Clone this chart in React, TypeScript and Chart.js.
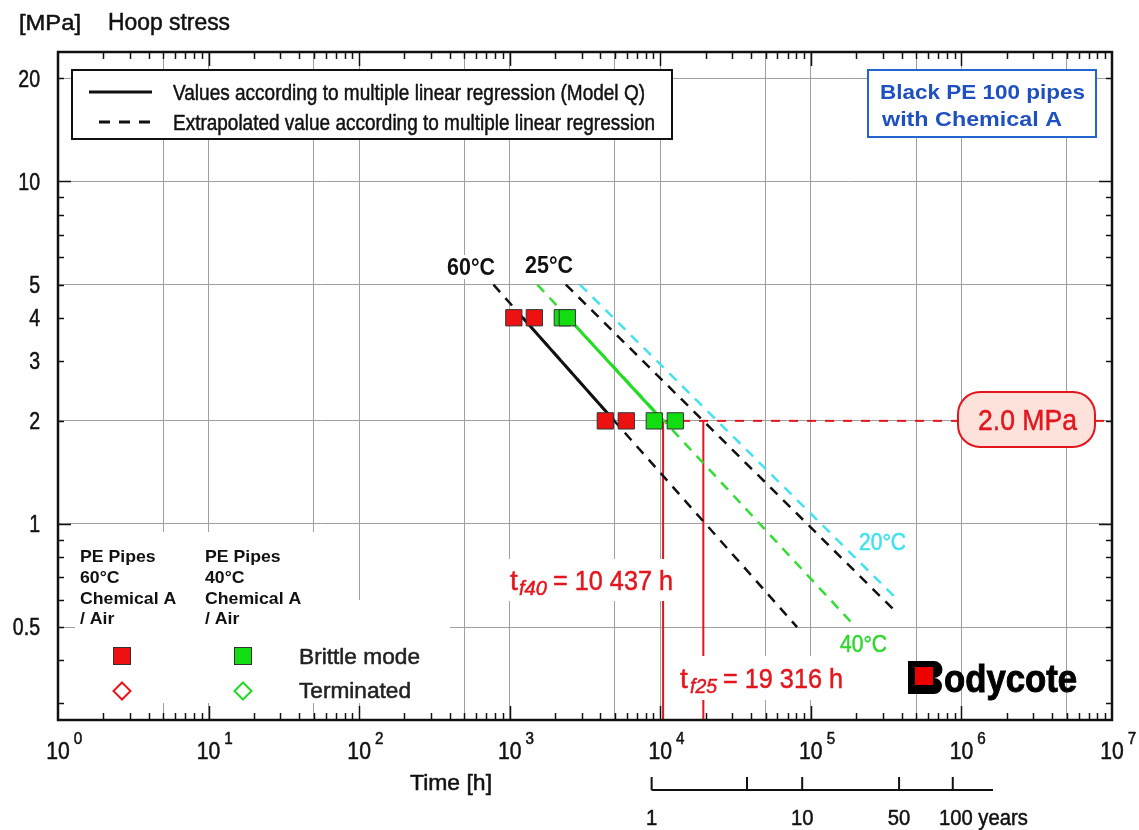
import React, { useEffect, useRef } from 'react';
import { Chart, registerables } from 'chart.js';

Chart.register(...registerables);

// ---------- axes ----------
const X_MIN = 1;
const X_MAX = 1e7;
const Y_MIN = 0.2677;
const Y_MAX = 23.88;

const xGridValues = [1, 5, 10, 50, 100, 500, 1e3, 5e3, 1e4, 5e4, 1e5, 5e5, 1e6, 5e6, 1e7];
const yGridValues = [0.5, 1, 2, 5, 10, 20];
const yTickLabels = [0.5, 1, 2, 3, 4, 5, 10, 20];
const xTickExponents = [0, 1, 2, 3, 4, 5, 6, 7];
const minorMultipliers = [1, 2, 3, 4, 5, 6, 7, 8, 9];
const xDecades = [0, 1, 2, 3, 4, 5, 6];
const yDecades = [-1, 0, 1];

// ---------- measured points (time [h], hoop stress [MPa]) ----------
const red60Times = [1065, 1457, 4314, 5948];
const red60Stress = [4, 4, 2, 2];
const green40Times = [2235, 2413, 9125, 12580];
const green40Stress = [4, 4, 2, 2];

// ---------- regression lines ----------
const solid60Times = [1221, 4943];
const solid60Stress = [4, 2];
const solid40Times = [2438, 10437];
const solid40Stress = [4, 2];
const dash60Times = [780, 81000];
const dash60Stress = [5, 0.5];
const dash40Times = [1525, 185000];
const dash40Stress = [5, 0.517];
const dash25Times = [2360, 373000];
const dash25Stress = [5, 0.55];
const dash20Times = [2925, 378000];
const dash20Stress = [5, 0.6];

// ---------- reference stress & failure times ----------
const refStress = 2.0;
const tf40 = 10437;
const tf25 = 19316;

// ---------- years scale ----------
const HOURS_PER_YEAR = 8760;
const yearTicks = [1, 4.3, 10, 44, 100];
const yearLabels = ['1', '', '10', '50', '100 years'];
const yearAxisEnd = 185;

const FONT = '"Liberation Sans", Arial, sans-serif';

const pts = (xs: number[], ys: number[]) => xs.map((x, i) => ({ x, y: ys[i] }));

type TOpts = {
  size: number;
  weight?: string;
  color?: string;
  align?: 'left' | 'center' | 'right';
  width?: number;
  sx?: number;
  italic?: boolean;
  heavy?: number;
};

function drawText(ctx: CanvasRenderingContext2D, s: string, x: number, y: number, o: TOpts) {
  const { size, weight = 'normal', color = '#111', align = 'left', width, sx = 1, italic = false, heavy = 0.5 } = o;
  ctx.save();
  ctx.font = `${italic ? 'italic ' : ''}${weight} ${size}px ${FONT}`;
  const w = ctx.measureText(s).width;
  const k = width ? width / w : sx;
  const tw = w * k;
  const lx = align === 'left' ? x : align === 'center' ? x - tw / 2 : x - tw;
  ctx.translate(lx, y + size * 0.358);
  ctx.scale(k, 1);
  ctx.fillStyle = color;
  ctx.strokeStyle = color;
  ctx.textBaseline = 'alphabetic';
  ctx.textAlign = 'left';
  ctx.fillText(s, 0, 0);
  if (heavy > 0 && weight === 'normal') {
    ctx.lineWidth = heavy;
    ctx.lineJoin = 'round';
    ctx.strokeText(s, 0, 0);
  }
  ctx.restore();
  return tw;
}

function seg(ctx: CanvasRenderingContext2D, x1: number, y1: number, x2: number, y2: number) {
  ctx.beginPath();
  ctx.moveTo(x1, y1);
  ctx.lineTo(x2, y2);
  ctx.stroke();
}

const RED = '#e3161e';
const GREEN_PT = '#11dd11';
const RED_PT = '#ee1111';

const annotationPlugin = {
  id: 'annotations',
  afterDatasetsDraw(chart: any) {
    const ctx: CanvasRenderingContext2D = chart.ctx;
    const xs = chart.scales.x;
    const ys = chart.scales.y;
    const { left, right, top, bottom } = chart.chartArea;
    const X = (v: number) => xs.getPixelForValue(v);
    const Y = (v: number) => ys.getPixelForValue(v);
    ctx.save();

    // white backgrounds
    ctx.fillStyle = '#fff';
    ctx.fillRect(75, 532, 260, 171);
    ctx.fillRect(335, 600, 115, 103);
    ctx.fillRect(502, 559, 178, 42);
    ctx.fillRect(672, 656, 178, 44);
    ctx.fillRect(444, 255, 54, 24);
    ctx.fillRect(522, 253, 54, 24);

    // frame ticks
    ctx.strokeStyle = '#111';
    ctx.lineWidth = 1.5;
    xDecades.forEach((d) => {
      minorMultipliers.forEach((m) => {
        const v = m * Math.pow(10, d);
        if (v <= X_MIN || v >= X_MAX) return;
        const px = Math.round(X(v)) + 0.5;
        const len = m === 1 ? 14 : 7;
        seg(ctx, px, bottom, px, bottom - len);
        seg(ctx, px, top, px, top + len);
      });
    });
    yDecades.forEach((d) => {
      minorMultipliers.forEach((m) => {
        const v = m * Math.pow(10, d);
        if (v <= Y_MIN || v >= Y_MAX) return;
        const py = Math.round(Y(v)) + 0.5;
        const len = m === 1 ? 13 : 6;
        seg(ctx, left, py, left + len, py);
        seg(ctx, right, py, right - len, py);
      });
    });
    // frame
    ctx.lineWidth = 2.5;
    ctx.strokeStyle = '#111';
    ctx.strokeRect(left, top, right - left, bottom - top);

    // title
    drawText(ctx, '[MPa]', 19, 22, { size: 22, width: 62 });
    drawText(ctx, 'Hoop stress', 108, 22, { size: 23, width: 122 });

    // y tick labels
    yTickLabels.forEach((v) => {
      drawText(ctx, String(v), 40, Y(v), { size: 23, sx: 0.85, align: 'right' });
    });
    // x tick labels
    xTickExponents.forEach((e) => {
      const px = X(Math.pow(10, e));
      const tw = drawText(ctx, '10', px, 751, { size: 23, sx: 0.92, align: 'center' });
      drawText(ctx, String(e), px + tw / 2 + 4, 738, { size: 16, sx: 0.95 });
    });
    drawText(ctx, 'Time [h]', 410, 782, { size: 22, width: 82 });

    // years axis
    const yx0 = X(yearTicks[0] * HOURS_PER_YEAR);
    const yx1 = X(yearAxisEnd * HOURS_PER_YEAR);
    ctx.lineWidth = 2;
    ctx.strokeStyle = '#111';
    seg(ctx, yx0, 790, yx1, 790);
    yearTicks.forEach((yr, i) => {
      const px = X(yr * HOURS_PER_YEAR);
      seg(ctx, px, 790, px, 777);
      const lab = yearLabels[i];
      if (!lab) return;
      const parts = lab.split(' ');
      const tw = drawText(ctx, parts[0], px + (parts.length > 1 ? 3 : 0), 817, { size: 22, sx: 0.92, align: 'center' });
      if (parts.length > 1) {
        drawText(ctx, ' ' + parts.slice(1).join(' '), px + 3 + tw / 2, 817, { size: 22, sx: 0.92 });
      }
    });

    // legend box (top-left)
    ctx.fillStyle = '#fff';
    ctx.fillRect(72, 70, 600, 69);
    ctx.lineWidth = 2;
    ctx.strokeStyle = '#111';
    ctx.strokeRect(72, 70, 600, 69);
    ctx.lineWidth = 3;
    seg(ctx, 89, 92, 152, 92);
    ctx.setLineDash([11, 9]);
    seg(ctx, 99, 122, 152, 122);
    ctx.setLineDash([]);
    drawText(ctx, 'Values according to multiple linear regression (Model Q)', 173, 92, { size: 22, width: 472 });
    drawText(ctx, 'Extrapolated value according to multiple linear regression', 173, 122, { size: 22, width: 482 });

    // blue box
    ctx.fillStyle = '#fff';
    ctx.fillRect(868, 70, 228, 67);
    ctx.lineWidth = 2;
    ctx.strokeStyle = '#2563cf';
    ctx.strokeRect(868, 70, 228, 67);
    drawText(ctx, 'Black PE 100 pipes', 880, 91, { size: 21, weight: 'bold', color: '#1f50c2', width: 205 });
    drawText(ctx, 'with Chemical A', 882, 118, { size: 21, weight: 'bold', color: '#1f50c2', width: 180 });

    // temperature labels
    drawText(ctx, '60°C', 447, 267, { size: 23, weight: 'bold', width: 48 });
    drawText(ctx, '25°C', 525, 265, { size: 23, weight: 'bold', width: 48 });
    drawText(ctx, '20°C', 859, 542, { size: 23, color: '#3ee2ef', width: 47 });
    drawText(ctx, '40°C', 840, 644, { size: 23, color: '#2fd82f', width: 47 });

    // 2.0 MPa box
    ctx.beginPath();
    (ctx as any).roundRect(958, 392, 137, 55, 22);
    ctx.fillStyle = '#fde1db';
    ctx.fill();
    ctx.lineWidth = 2;
    ctx.strokeStyle = RED;
    ctx.stroke();
    drawText(ctx, '2.0 MPa', 978, 419, { size: 30, color: RED, width: 99 });

    // failure time labels
    drawText(ctx, 't', 510, 580, { size: 28, color: RED });
    drawText(ctx, 'f40', 519, 588, { size: 20, color: RED, italic: true, width: 28 });
    drawText(ctx, '= 10 437 h', 553, 580, { size: 28, color: RED, width: 120 });
    drawText(ctx, 't', 680, 678, { size: 28, color: RED });
    drawText(ctx, 'f25', 690, 686, { size: 20, color: RED, italic: true, width: 27 });
    drawText(ctx, '= 19 316 h', 723, 678, { size: 28, color: RED, width: 120 });

    // bottom-left legend
    const col1 = ['PE Pipes', '60°C', 'Chemical A', '/ Air'];
    const col2 = ['PE Pipes', '40°C', 'Chemical A', '/ Air'];
    const rows = [556, 577, 598, 618];
    col1.forEach((s, i) => drawText(ctx, s, 80, rows[i], { size: 17, weight: 'bold', sx: 1.04 }));
    col2.forEach((s, i) => drawText(ctx, s, 205, rows[i], { size: 17, weight: 'bold', sx: 1.04 }));
    ctx.lineWidth = 1;
    ctx.strokeStyle = '#333';
    ctx.fillStyle = RED_PT;
    ctx.fillRect(113, 647, 17, 17);
    ctx.strokeRect(113.5, 647.5, 17, 17);
    ctx.fillStyle = GREEN_PT;
    ctx.fillRect(234, 647, 17, 17);
    ctx.strokeRect(234.5, 647.5, 17, 17);
    const diamond = (cx: number, cy: number, col: string) => {
      ctx.beginPath();
      ctx.moveTo(cx, cy - 8.5);
      ctx.lineTo(cx + 8.5, cy);
      ctx.lineTo(cx, cy + 8.5);
      ctx.lineTo(cx - 8.5, cy);
      ctx.closePath();
      ctx.lineWidth = 2;
      ctx.strokeStyle = col;
      ctx.stroke();
    };
    diamond(122, 691, RED);
    diamond(243, 691, '#22d822');
    drawText(ctx, 'Brittle mode', 299, 656, { size: 22, width: 121, color: '#222' });
    drawText(ctx, 'Terminated', 299, 690, { size: 22, width: 112, color: '#222' });

    // logo
    ctx.fillStyle = '#000';
    ctx.beginPath();
    ctx.moveTo(908, 661);
    ctx.lineTo(934, 661);
    ctx.arc(934, 669.5, 8.5, -Math.PI / 2, Math.PI / 2);
    ctx.arc(934, 686, 8, -Math.PI / 2, Math.PI / 2);
    ctx.lineTo(908, 694);
    ctx.closePath();
    ctx.fill();
    ctx.fillStyle = '#ee0000';
    ctx.fillRect(915, 667, 18, 18);
    ctx.save();
    ctx.font = `bold 38px ${FONT}`;
    const lw = ctx.measureText('odycote').width;
    ctx.translate(944, 692);
    ctx.scale(133 / lw, 1);
    ctx.fillStyle = '#000';
    ctx.strokeStyle = '#000';
    ctx.lineWidth = 1;
    ctx.fillText('odycote', 0, 0);
    ctx.strokeText('odycote', 0, 0);
    ctx.restore();

    ctx.restore();
  },
};

export default function App() {
  const ref = useRef<HTMLCanvasElement>(null);

  useEffect(() => {
    document.body.style.margin = '0';
    const canvas = ref.current;
    if (!canvas) return;

    const lineDs = (label: string, xs: number[], ys: number[], color: string, width: number, dash: number[] = []) => ({
      label,
      data: pts(xs, ys),
      showLine: true,
      borderColor: color,
      borderWidth: width,
      borderDash: dash,
      pointRadius: 0,
      pointHoverRadius: 0,
      borderCapStyle: 'butt' as const,
    });

    const chart = new Chart(canvas, {
      type: 'scatter',
      data: {
        datasets: [
          {
            label: 'PE 60°C brittle',
            data: pts(red60Times, red60Stress),
            pointStyle: 'rect',
            pointRadius: 11.5,
            pointHoverRadius: 11.5,
            pointBackgroundColor: RED_PT,
            pointBorderColor: '#333',
            pointBorderWidth: 1,
            showLine: false,
          },
          {
            label: 'PE 40°C brittle',
            data: pts(green40Times, green40Stress),
            pointStyle: 'rect',
            pointRadius: 11.5,
            pointHoverRadius: 11.5,
            pointBackgroundColor: GREEN_PT,
            pointBorderColor: '#333',
            pointBorderWidth: 1,
            showLine: false,
          },
          lineDs('60°C regression', solid60Times, solid60Stress, '#111', 3),
          lineDs('40°C regression', solid40Times, solid40Stress, '#22dd22', 3),
          lineDs('60°C extrapolated', dash60Times, dash60Stress, '#111', 2.5, [10, 8]),
          lineDs('40°C extrapolated', dash40Times, dash40Stress, '#33dd33', 2.5, [10, 8]),
          lineDs('25°C extrapolated', dash25Times, dash25Stress, '#111', 2.5, [10, 8]),
          lineDs('20°C extrapolated', dash20Times, dash20Stress, '#44e2f0', 2.5, [10, 8]),
          lineDs('2.0 MPa', [tf40, X_MAX], [refStress, refStress], RED, 2, [9, 9]),
          lineDs('tf40', [tf40, tf40], [refStress, Y_MIN], RED, 2),
          lineDs('tf25', [tf25, tf25], [refStress, Y_MIN], RED, 2),
        ],
      },
      options: {
        responsive: false,
        animation: false,
        events: [],
        layout: { padding: { left: 58, right: 27, top: 52, bottom: 110 } },
        plugins: {
          legend: { display: false },
          tooltip: { enabled: false },
        },
        scales: {
          x: {
            type: 'logarithmic',
            min: X_MIN,
            max: X_MAX,
            afterBuildTicks: (axis: any) => {
              axis.ticks = xGridValues.map((value) => ({ value }));
            },
            ticks: { display: false },
            grid: { color: '#a0a0a0', lineWidth: 1, drawTicks: false },
            border: { display: false },
          },
          y: {
            type: 'logarithmic',
            min: Y_MIN,
            max: Y_MAX,
            afterBuildTicks: (axis: any) => {
              axis.ticks = yGridValues.map((value) => ({ value }));
            },
            ticks: { display: false },
            grid: { color: '#a0a0a0', lineWidth: 1, drawTicks: false },
            border: { display: false },
          },
        },
      },
      plugins: [annotationPlugin],
    });

    return () => chart.destroy();
  }, []);

  return (
    <div style={{ width: 1139, height: 830, background: '#fff' }}>
      <canvas ref={ref} width={1139} height={830} style={{ display: 'block' }} />
    </div>
  );
}
